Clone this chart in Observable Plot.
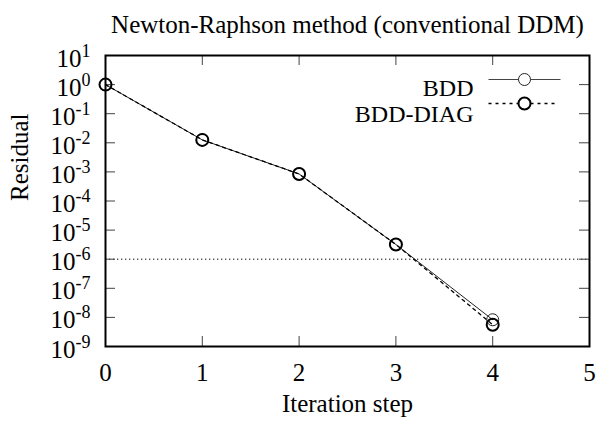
<!DOCTYPE html>
<html>
<head>
<meta charset="utf-8">
<script src="https://cdn.jsdelivr.net/npm/d3@7"></script>
<script src="https://cdn.jsdelivr.net/npm/@observablehq/plot@0.6"></script>
<style>
  html, body { margin: 0; padding: 0; background: white; }
</style>
</head>
<body>
<div id="chart"></div>
<script>
// ---- data ----
const steps = [0, 1, 2, 3, 4];
const bdd = [1, 1.26e-2, 8.5e-4, 3.2e-6, 8.3e-9];
const bddDiag = [1, 1.26e-2, 8.5e-4, 3.2e-6, 5.6e-9];
const seriesNames = ["BDD", "BDD-DIAG"];
const xTicks = [0, 1, 2, 3, 4, 5];
const yTicks = [1e1, 1e0, 1e-1, 1e-2, 1e-3, 1e-4, 1e-5, 1e-6, 1e-7, 1e-8, 1e-9];
const threshold = [1e-6];
const titleText = "Newton-Raphson method (conventional DDM)";
const xLabel = "Iteration step";
const yLabel = "Residual";

const bddRows = steps.map((s, i) => ({step: s, value: bdd[i]}));
const diagRows = steps.map((s, i) => ({step: s, value: bddDiag[i]}));

const font = "'Liberation Serif', 'Times New Roman', serif";
const fs = 25;
const legendFs = 24;

const plot = Plot.plot({
  width: 597,
  height: 423,
  marginLeft: 105,
  marginRight: 8,
  marginTop: 55,
  marginBottom: 77,
  style: {fontFamily: font, fontSize: fs + "px", background: "white", color: "black"},
  x: {domain: [0, 5]},
  y: {type: "log", domain: [1e-9, 10]},
  marks: [
    Plot.ruleY(threshold, {stroke: "black", strokeWidth: 1, strokeDasharray: "1.3,2.7"}),
    // inward ticks on all four sides
    Plot.tickY(yTicks, {y: d => d, insetRight: 474, stroke: "#444", strokeWidth: 1}),
    Plot.tickY(yTicks, {y: d => d, insetLeft: 474, stroke: "#444", strokeWidth: 1}),
    Plot.tickX(xTicks, {x: d => d, insetTop: 281, stroke: "#444", strokeWidth: 1}),
    Plot.tickX(xTicks, {x: d => d, insetBottom: 281, stroke: "#444", strokeWidth: 1}),
    Plot.line(bddRows, {x: "step", y: "value", stroke: "#222", strokeWidth: 1}),
    Plot.line(diagRows, {x: "step", y: "value", stroke: "black", strokeWidth: 1.3, strokeDasharray: "3,4"}),
    Plot.dot(bddRows, {x: "step", y: "value", r: 6, stroke: "#222", strokeWidth: 1, fill: "none"}),
    Plot.dot(diagRows, {x: "step", y: "value", r: 6, stroke: "black", strokeWidth: 2, fill: "none"}),
    Plot.frame({stroke: "black", strokeWidth: 2}),
    Plot.axisX({ticks: xTicks, tickSize: 0, tickPadding: 17, label: null, fontSize: fs, tickFormat: d => String(d)}),
    Plot.axisY({ticks: yTicks, tickSize: 0, tickPadding: 15, label: null, fontSize: fs,
      tickFormat: d => "10|" + Math.round(Math.log10(d))}),
    // title and axis labels
    Plot.text([titleText], {text: d => d, frameAnchor: "top", dy: -40, fontSize: fs}),
    Plot.text([xLabel], {text: d => d, frameAnchor: "bottom", dy: 65, fontSize: fs}),
    Plot.text([yLabel], {text: d => d, frameAnchor: "left", dx: -86, rotate: -90, fontSize: fs}),
    // legend
    Plot.text([seriesNames[0]], {text: d => d, frameAnchor: "top-right", dx: -116, dy: 23, textAnchor: "end", fontSize: legendFs}),
    Plot.text([seriesNames[1]], {text: d => d, frameAnchor: "top-right", dx: -116, dy: 49, textAnchor: "end", fontSize: legendFs}),
    Plot.vector([seriesNames[0]], {frameAnchor: "top-right", dx: -101, dy: 24, length: 72, rotate: 90, anchor: "start", r: 0, stroke: "#444", strokeWidth: 1, strokeLinecap: "butt"}),
    Plot.vector([seriesNames[1]], {frameAnchor: "top-right", dx: -101, dy: 48, length: 67, rotate: 90, anchor: "start", r: 0, stroke: "black", strokeWidth: 1.3, strokeDasharray: "3,4", strokeLinecap: "butt"}),
    Plot.dot([seriesNames[0]], {frameAnchor: "top-right", dx: -65, dy: 24, r: 6, stroke: "#222", strokeWidth: 1, fill: "white"}),
    Plot.dot([seriesNames[1]], {frameAnchor: "top-right", dx: -65, dy: 48, r: 6, stroke: "black", strokeWidth: 2, fill: "white"})
  ]
});

// turn "10|e" tick labels into 10 with superscript exponent
plot.querySelectorAll('g[aria-label="y-axis tick label"] text').forEach(t => {
  const parts = t.textContent.split("|");
  if (parts.length !== 2) return;
  t.textContent = "";
  const ns = "http://www.w3.org/2000/svg";
  const base = document.createElementNS(ns, "tspan");
  base.textContent = parts[0];
  base.setAttribute("dy", "3");
  const sup = document.createElementNS(ns, "tspan");
  sup.textContent = parts[1];
  sup.setAttribute("font-size", "18px");
  sup.setAttribute("dy", "-10");
  t.appendChild(base);
  t.appendChild(sup);
});

document.getElementById("chart").appendChild(plot);
</script>
</body>
</html>
